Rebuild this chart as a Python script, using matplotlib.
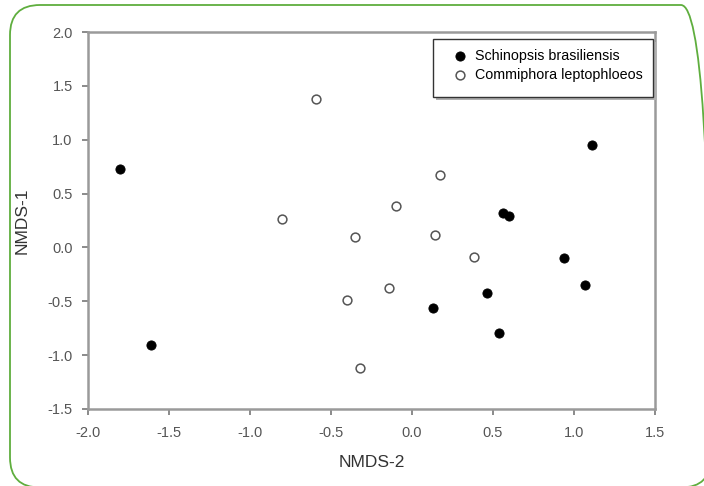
import matplotlib
matplotlib.use("Agg")
import matplotlib.pyplot as plt
from matplotlib import font_manager
from matplotlib.patches import FancyBboxPatch, Rectangle
from matplotlib.transforms import IdentityTransform

# NMDS scores per sample (axis 2 on x, axis 1 on y)
schinopsis_x = [-1.80, 1.11, 0.56, 0.60, 0.94, 1.07, 0.46, -1.61, 0.13, 0.54]
schinopsis_y = [0.73, 0.95, 0.32, 0.29, -0.10, -0.35, -0.42, -0.91, -0.56, -0.79]
commiphora_x = [-0.59, -0.80, 0.17, -0.10, 0.14, 0.38, -0.14, -0.35, -0.40, -0.32]
commiphora_y = [1.38, 0.26, 0.67, 0.38, 0.12, -0.09, -0.38, 0.10, -0.49, -1.12]
labels = ["Schinopsis brasiliensis", "Commiphora leptophloeos"]
xticks = [-2.0, -1.5, -1.0, -0.5, 0.0, 0.5, 1.0, 1.5]
yticks = [-1.5, -1.0, -0.5, 0.0, 0.5, 1.0, 1.5, 2.0]

plt.rcParams['font.family'] = ['Liberation Sans', 'DejaVu Sans']

# legend uses a narrow face when one is available
names = {f.name for f in font_manager.fontManager.ttflist}
if 'Liberation Sans Narrow' in names:
    leg_prop = {'family': 'Liberation Sans Narrow', 'size': 12}
    leg_space = 0.15
else:
    leg_prop = {'family': 'Liberation Sans', 'size': 10.3}
    leg_space = 0.36

W, H = 704, 486
fig = plt.figure(figsize=(W / 100, H / 100), dpi=100)
ax = fig.add_axes([88 / W, 1 - 409 / H, (655 - 88) / W, (409 - 32) / H])

ax.scatter(schinopsis_x, schinopsis_y, s=44, c='black', edgecolors='black',
           linewidths=0.6, zorder=3, label=labels[0])
ax.scatter(commiphora_x, commiphora_y, s=40, c='white', edgecolors='#555555',
           linewidths=1.1, zorder=3, label=labels[1])

ax.set_xlim(-2.0, 1.5)
ax.set_ylim(-1.5, 2.0)
ax.set_xticks(xticks)
ax.set_yticks(yticks)
ax.set_xticklabels(["%.1f" % t for t in xticks])
ax.set_yticklabels(["%.1f" % t for t in yticks])

for sp in ax.spines.values():
    sp.set_color('#9a9a9a')
    sp.set_linewidth(1.8)
ax.tick_params(direction='out', length=4, width=1.2, color='#777777',
               labelsize=10.5, labelcolor='#555555')
ax.tick_params(axis='x', pad=8)
ax.tick_params(axis='y', pad=7)

ax.set_xlabel("NMDS-2", fontsize=12.5, color='#333333', labelpad=11)
ax.set_ylabel("NMDS-1", fontsize=12.5, color='#333333', labelpad=13)

# legend entries without frame; the box is drawn separately below
leg = fig.legend(handles=ax.collections, labels=labels, loc='upper left',
                 bbox_to_anchor=(453 / W, 1 - 49 / H), bbox_transform=fig.transFigure,
                 frameon=False, borderpad=0, borderaxespad=0,
                 handlelength=1.0, handletextpad=0.55, labelspacing=leg_space,
                 prop=leg_prop)

box_x0, box_y0, box_x1, box_y1 = 433, 39, 653, 97
shadow = Rectangle((box_x0 + 3, H - box_y1 - 3), box_x1 - box_x0, box_y1 - box_y0,
                   transform=IdentityTransform(), facecolor='#b0b0b0',
                   edgecolor='none', zorder=4)
box = Rectangle((box_x0, H - box_y1), box_x1 - box_x0, box_y1 - box_y0,
                transform=IdentityTransform(), facecolor='white',
                edgecolor='#333333', linewidth=1.0, zorder=5)
fig.patches.extend([shadow, box])
leg.set_zorder(6)

# rounded green frame around the whole panel
frame = FancyBboxPatch((10, -1.5), 701, 482.5,
                       boxstyle="round,pad=0,rounding_size=30",
                       transform=IdentityTransform(), fill=False,
                       edgecolor='#5fae3e', linewidth=1.3)
fig.patches.append(frame)

fig.savefig("out.png", dpi=100)
